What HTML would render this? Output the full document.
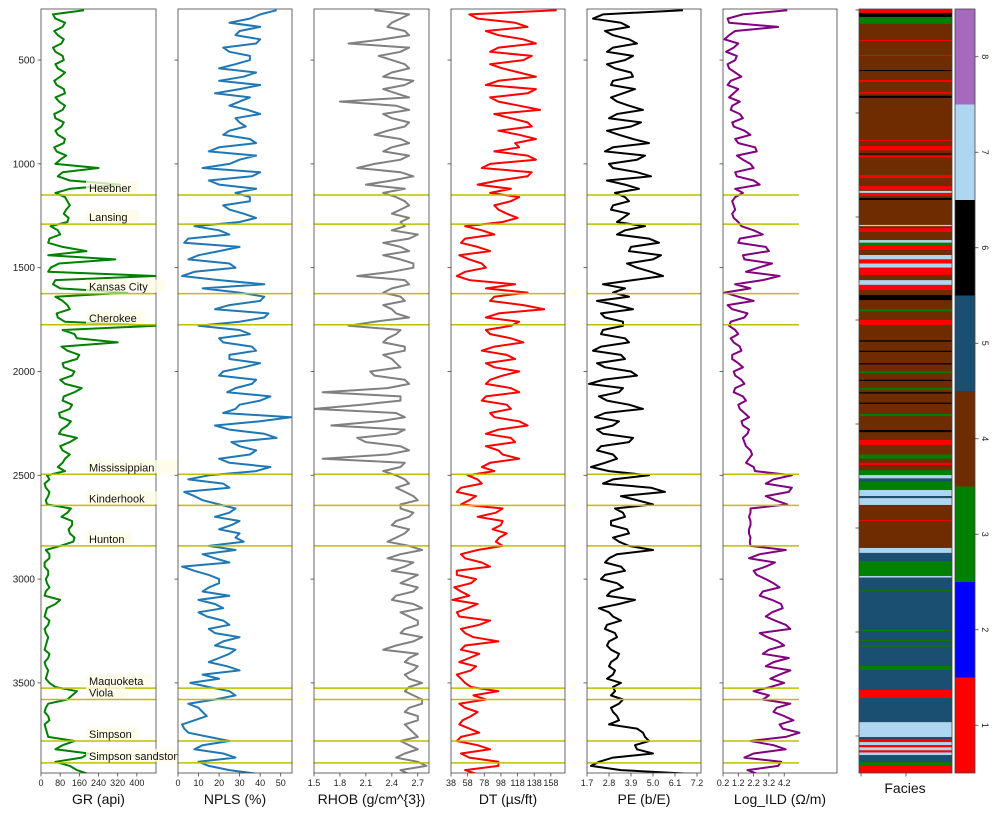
<!DOCTYPE html>
<html><head><meta charset="utf-8"><style>
html,body{margin:0;padding:0;background:#fff;}
svg{display:block;font-family:"Liberation Sans","DejaVu Sans",sans-serif;}
</style></head><body>
<svg id="chart" width="996" height="814" viewBox="0 0 996 814" xmlns="http://www.w3.org/2000/svg"></svg>
<script>
// ---- data ----
const depthStart = 260;
const depthStep = 40;
const grValues = [180,60,90,70,85,60,95,70,80,65,100,75,90,60,85,70,95,65,80,240,70,330,
 60,110,105,115, 40,80,30,190,310,40,480,50, 360,90,120,70,
 480,140,320,110,150,95,130,100,140,90,120,80,110,75,120,90,100,70,
 25,15,35,20, 125,85,130,120,135,
 20,35,15,30,25,20,80,25,15,30,20,25,15,30,20,25,35, 150,110, 20,30,15,25, 140,60,170, 120,200];
const grMidValues = [50,100,55,95,50,90,60,100,55,95,60,100,55,95,60,100,55,105,60,90,120, 120, 100,120,95, 110,
 70,35,90,30,75,30,60, 80, 60,110,65, 100,
 90,150,85,160,90,140,80,170,95,130,75,125,85,150,80,120,90, 100, 35,20,30, 25, 110,130,115,140, 80,
 35,15,30,20,35,15,60,20,35,15,30,20,35,15,30,20, 60, 130, 30,15,35,20, 30, 90,200, 60, 150];
const nplsValues = [48,35,40,28,38,25,35,20,32,40,18,30,34,28,33,22,38,15,30,12,36,20,
 28,35,25,38, 8,25,3,20,5,28,2,42, 30,40,18,42,
 10,35,22,38,25,32,20,36,24,40,28,55,18,42,26,38,20,45,
 15,22,3,12, 28,18,26,30,32,
 28,18,2,15,20,12,10,22,14,25,18,22,28,20,24,12,6, 25,18, 10,14,2,5, 25,8,28, 15,40];
const nplsMidValues = [40,25,30,40,22,35,28,38,20,30,35,25,40,30,25,35,20,38,25,40,15, 38, 35,22,32, 30,
 20,5,30,10,25,8,20, 12, 42,25,44, 30,
 30,20,36,25,40,22,38,28,45,30,22,40,25,48,30,35,25, 38, 5,25,8, 20, 25,30,20,28, 15,
 12,25,8,20,15,25,18,10,22,15,30,18,25,15,30,20, 15, 28, 5,12,8,3, 15, 12,22, 10, 25];
const rhobValues = [2.2,2.5,2.35,2.6,1.9,2.5,2.4,2.6,2.3,2.55,2.45,1.8,2.6,2.4,2.55,2.2,2.6,2.3,2.5,2.0,2.65,2.1,
 2.3,2.55,2.5,2.6, 2.55,2.7,2.3,2.6,2.5,2.65,2.0,2.6, 2.3,2.55,2.4,2.6,
 1.9,2.45,2.3,2.55,2.4,2.5,2.2,2.6,1.6,2.5,1.5,2.55,1.7,2.45,2.1,2.6,1.6,2.5,
 2.45,2.6,2.55,2.7, 2.5,2.6,2.4,2.55,2.35,
 2.75,2.35,2.55,2.7,2.5,2.65,2.4,2.75,2.6,2.7,2.5,2.65,2.3,2.6,2.7,2.55,2.75, 2.55,2.75, 2.6,2.7,2.55,2.65, 2.5,2.7,2.45, 2.8,2.6];
const rhobMidValues = [2.6,2.4,2.55,2.3,2.6,2.25,2.55,2.4,2.65,2.3,2.6,2.45,2.3,2.6,2.35,2.5,2.4,2.6,2.2,2.5,2.4, 2.55, 2.45,2.6,2.4, 2.5,
 2.4,2.6,2.5,2.3,2.65,2.4,2.55, 2.4, 2.5,2.3,2.45, 2.2,
 2.5,2.35,2.55,2.3,2.45,2.15,2.55,2.35,2.5,2.05,2.45,2.25,2.55,2.0,2.5,2.35,2.55, 2.3, 2.55,2.45,2.65, 2.5, 2.65,2.45,2.6,2.45, 2.6,
 2.5,2.65,2.4,2.6,2.7,2.45,2.65,2.5,2.7,2.55,2.75,2.45,2.7,2.55,2.65,2.6, 2.6, 2.65, 2.75,2.55,2.7,2.6, 2.7, 2.6,2.55, 2.7, 2.5];
const dtValues = [165,70,130,95,140,85,125,100,140,80,130,95,145,110,135,120,115,90,140,75,130,70,
 85,110,95,118, 55,90,50,85,60,80,45,115, 130,85,150,80,
 110,85,125,75,115,90,100,80,120,75,110,90,130,80,115,95,120,75,
 58,75,45,60, 100,70,98,105,92,
 70,55,85,45,62,50,40,58,48,72,55,95,50,60,68,45,55, 95,80, 55,62,48,72, 45,85,60, 95,70];
const dtMidValues = [60,115,80,125,95,135,85,120,95,140,85,120,90,130,95,140,120,130,85,135,95, 110, 120,90,105, 100,
 75,55,70,48,75,55,60, 80, 90,125,95, 120,
 80,110,90,105,80,120,85,110,80,105,85,120,95,110,80,100,85, 90, 70,50,68, 50, 92,100,88,96, 100,
 50,75,45,68,42,60,70,45,85,50,65,55,72,48,62,50, 62, 65, 48,70,52,60, 50, 70,50, 95, 55];
const peValues = [6.5,2.0,3.8,3.0,4.2,2.7,3.6,3.1,4.0,2.9,3.5,3.2,4.5,2.8,3.9,3.3,4.8,2.6,4.2,3.0,4.9,3.6,
 3.1,3.8,2.9,3.5, 4.6,3.2,5.3,3.8,5.0,4.2,5.5,2.5, 3.0,2.2,4.0,2.6,
 3.5,2.4,3.8,2.0,3.6,2.6,4.2,1.8,3.3,2.7,4.5,2.1,3.0,2.5,3.8,2.2,3.2,1.9,
 4.8,2.5,5.6,4.2, 3.1,3.6,2.9,3.8,3.3,
 5.0,2.8,3.4,2.6,3.2,2.9,4.1,2.3,3.0,2.7,3.1,2.8,2.9,3.2,2.8,3.0,3.4, 3.1,3.5, 2.9,3.2,2.8,4.5, 4.8,4.2,3.0, 1.9,7.2];
const peMidValues = [2.5,3.4,2.6,3.8,3.0,4.0,2.7,3.9,3.0,4.1,2.9,3.8,3.2,4.4,2.7,4.0,3.0,4.6,2.8,4.2,2.7, 4.3, 3.6,3.0,3.8, 3.2,
 3.6,4.8,3.9,5.4,3.7,4.9,4.0, 3.6, 3.8,3.2,2.4, 3.5,
 2.5,3.6,2.4,3.4,2.2,3.9,2.5,3.5,2.3,3.8,2.6,3.3,2.2,4.0,2.4,3.0,2.6, 2.8, 3.0,4.9,3.4, 5.0, 3.5,2.9,3.7,3.0, 3.8,
 3.2,2.6,3.6,2.4,3.5,2.7,3.3,2.8,3.4,2.6,3.2,2.7,3.3,2.9,3.1,2.7, 3.0, 2.9, 3.3,3.0,3.3,4.2, 4.6, 4.1,5.0, 2.3, 3.4];
const ildValues = [4.4,0.5,3.8,0.6,1.2,0.4,1.0,0.6,1.4,0.5,0.9,1.3,0.7,1.5,0.9,2.0,1.2,2.4,1.5,2.2,1.1,2.6,
 1.5,0.8,1.0,0.9, 1.4,2.8,1.2,3.2,1.6,2.5,3.9,1.0, 0.3,2.2,0.8,1.6,
 0.6,1.2,0.9,1.4,0.8,1.5,1.0,1.6,0.9,1.7,1.3,1.9,1.5,1.8,1.6,2.0,1.9,2.2,
 4.7,3.0,4.5,3.6, 2.0,1.9,2.0,1.9,1.95,
 4.3,1.9,3.0,2.4,3.5,2.8,3.4,4.1,3.0,4.3,2.6,3.8,3.2,4.5,3.0,3.9,4.2, 2.2,2.8, 3.7,4.2,3.9,5.2, 2.0,4.3,1.6, 3.8,2.5];
const ildMidValues = [1.5,0.6,1.0,0.3,0.9,1.1,0.5,1.0,0.7,1.2,0.6,0.8,1.3,0.8,1.6,1.0,2.3,1.1,2.0,1.0,2.2, 1.0, 1.0,0.9,0.8, 1.2,
 2.2,1.3,3.0,1.5,3.4,1.7,2.8, 2.0, 1.2,0.5,1.8, 0.7,
 1.0,0.7,1.3,0.8,1.2,0.9,1.4,1.0,1.5,1.2,1.6,1.4,1.9,1.5,1.7,2.1,1.7, 2.3, 3.5,4.7,3.0, 4.4, 2.0,2.0,1.9,2.0, 2.0,
 2.6,3.6,2.2,3.0,3.9,2.6,4.0,3.4,3.6,4.6,3.1,4.2,2.8,3.5,4.6,3.3, 3.3, 3.2, 4.6,3.5,4.8,4.1, 4.3, 3.5,2.2, 4.0, 1.8];
const formationNames = ["Heebner","Lansing","Kansas City","Cherokee","Mississippian","Kinderhook","Hunton","Maquoketa","Viola","Simpson","Simpson sandstone"];
const formationDepths = [1150,1290,1625,1775,2495,2645,2840,3525,3580,3780,3885];
const depthTicks = [500,1000,1500,2000,2500,3000,3500];
const grTicks = [0,80,160,240,320,400];
const nplsTicks = [0,10,20,30,40,50];
const rhobTicks = ["1.5","1.8","2.1","2.4","2.7"];
const dtTicks = [38,58,78,98,118,138,158];
const peTicks = ["1.7","2.8","3.9","5.0","6.1","7.2"];
const ildTicks = ["0.2","1.2","2.2","3.2","4.2"];
const faciesSegTop = [254,273,293,326,403,476,548,596,654,672,885,914,950,960,1054,1107,1130,1140,1164,1294,1310,1367,1380,1395,1439,1460,1480,1500,1560,1583,1632,1700,1752,1850,1900,1960,2000,2040,2080,2100,2150,2205,2282,2330,2400,2440,2475,2499,2515,2528,2571,2600,2610,2643,2716,2722,2850,2874,2913,2985,2993,3053,3060,3245,3252,3294,3300,3320,3326,3419,3438,3534,3573,3689,3761,3770,3785,3800,3810,3825,3835,3848,3882,3900];
const faciesSegBottom = [273,293,326,403,408,480,552,605,662,682,890,935,955,970,1068,1125,1140,1155,1174,1300,1328,1380,1395,1415,1460,1480,1500,1535,1583,1608,1656,1710,1776,1856,1906,1966,2008,2046,2088,2106,2156,2215,2292,2354,2420,2450,2499,2515,2528,2571,2600,2610,2643,2716,2722,2850,2874,2913,2985,2993,3053,3060,3245,3252,3294,3300,3320,3326,3419,3438,3534,3573,3689,3761,3770,3785,3800,3810,3825,3835,3848,3882,3900,3934];
const faciesSegCode = [1,6,3,4,1,1,6,1,1,6,1,1,6,1,1,1,7,1,6,7,1,7,3,1,7,1,7,1,7,1,6,3,1,6,6,6,3,6,3,6,6,3,6,1,3,1,3,7,5,3,7,5,7,4,1,4,7,5,3,7,5,3,5,3,5,3,5,3,5,3,5,1,5,7,5,1,7,1,7,1,7,5,3,1];
const colorbarLabels = ["1","2","3","4","5","6","7","8"];
const faciesColors = ["#ff0000","#0000ff","#008000","#6e2c00","#1b4f72","#000000","#aed6f1","#a569bd"];

// ---- layout ----
const svg = document.getElementById('chart');
const NS = 'http://www.w3.org/2000/svg';
const TOP = 9, BOT = 773, DMIN = 254, DMAX = 3934;
function yOf(d){ return TOP + (d - DMIN) * (BOT - TOP) / (DMAX - DMIN); }
function mk(tag, attrs, parent){ const e = document.createElementNS(NS, tag); for (const k in attrs) e.setAttribute(k, attrs[k]); (parent||svg).appendChild(e); return e; }

const panels = [
 {key:'gr', x0:41, x1:156, min:0, max:480, color:'#008000', vals:grValues, mids:grMidValues, ticks:grTicks, title:'GR (api)', lineEnd:156},
 {key:'npls', x0:178, x1:292, min:0, max:55.5, color:'#1f77b4', vals:nplsValues, mids:nplsMidValues, ticks:nplsTicks, title:'NPLS (%)', lineEnd:292},
 {key:'rhob', x0:314, x1:429, min:1.5, max:2.83, color:'#808080', vals:rhobValues, mids:rhobMidValues, ticks:rhobTicks, title:'RHOB (g/cm^{3})', lineEnd:429},
 {key:'dt', x0:451, x1:565, min:38, max:175, color:'#ff0000', vals:dtValues, mids:dtMidValues, ticks:dtTicks, title:'DT (\u00b5s/ft)', lineEnd:565},
 {key:'pe', x0:587, x1:701, min:1.7, max:7.4, color:'#000000', vals:peValues, mids:peMidValues, ticks:peTicks, title:'PE (b/E)', lineEnd:701},
 {key:'ild', x0:723, x1:837, min:0.2, max:7.65, color:'#800080', vals:ildValues, mids:ildMidValues, ticks:ildTicks, title:'Log_ILD (\u03a9/m)', lineEnd:799}
];
const defs = mk('defs', {});

panels.forEach((p, pi) => {
  const g = mk('g', {});
  
  
  const xOf = v => p.x0 + (v - p.min) * (p.x1 - p.x0) / (p.max - p.min);
  mk('rect', {x:p.x0, y:TOP, width:p.x1-p.x0, height:BOT-TOP, fill:'#fff'}, g);
  const cp = mk('clipPath', {id:'clip'+pi}, defs);
  mk('rect', {x:p.x0, y:TOP, width:p.x1-p.x0, height:BOT-TOP}, cp);
  const pts = [];
  p.vals.forEach((v,i) => {
    pts.push(xOf(+v).toFixed(1) + ',' + yOf(depthStart + i*depthStep).toFixed(1));
    if (i < p.mids.length) pts.push(xOf(+p.mids[i]).toFixed(1) + ',' + yOf(depthStart + i*depthStep + depthStep/2).toFixed(1));
  });
  const line = mk('polyline', {points:pts.join(' '), fill:'none', stroke:p.color, 'stroke-width':2, 'stroke-linejoin':'round', 'clip-path':'url(#clip'+pi+')'}, g);
  
  
  formationDepths.forEach((d, fi) => {
    const fl = mk('line', {x1:p.x0, x2:p.lineEnd, y1:yOf(d), y2:yOf(d), stroke:'#bfbf00', 'stroke-width':1.5}, g);
    
    
  });
  mk('rect', {x:p.x0, y:TOP, width:p.x1-p.x0, height:BOT-TOP, fill:'none', stroke:'#444', 'stroke-width':0.8}, g);
  depthTicks.forEach(d => {
    mk('line', {x1:p.x0-3.5, x2:p.x0, y1:yOf(d), y2:yOf(d), stroke:'#444', 'stroke-width':0.8}, g);
    if (pi === 0) {
      const t = mk('text', {x:p.x0-6, y:yOf(d)+3.5, 'font-size':10, 'text-anchor':'end', fill:'#222'}, g);
      t.textContent = d;
      
      
    }
  });
  p.ticks.forEach(tv => {
    const x = xOf(+tv);
    mk('line', {x1:x, x2:x, y1:BOT, y2:BOT+3.5, stroke:'#444', 'stroke-width':0.8}, g);
    const t = mk('text', {x:x, y:BOT+13, 'font-size':9, 'text-anchor':'middle', fill:'#222'}, g);
    t.textContent = tv;
    
    
  });
  const tt = mk('text', {x:(p.x0+p.x1)/2, y:804, 'font-size':14, 'text-anchor':'middle', fill:'#111'}, g);
  tt.textContent = p.title;
  
  
  if (pi === 0) {
    const cpl = mk('clipPath', {id:'labelclip'}, defs);
    mk('rect', {x:0, y:0, width:178, height:814}, cpl);
    const lg = mk('g', {'clip-path':'url(#labelclip)'});
    
    
    formationNames.forEach((n, fi) => {
      const y = yOf(formationDepths[fi]) - 5;
      mk('rect', {x:86, y:y-9, width:n.length*6.6+6, height:13, fill:'#fffbe6', opacity:0.8}, lg);
      const t = mk('text', {x:89, y:y+2, 'font-size':11, fill:'#111'}, lg);
      t.textContent = n;
      
      
    });
  }
});

// facies track
const fg = mk('g', {});


const FX0 = 859, FX1 = 952;
mk('rect', {x:FX0, y:TOP, width:FX1-FX0, height:BOT-TOP, fill:faciesColors[3]}, fg);
faciesSegCode.forEach((c, i) => {
  const r = mk('rect', {x:FX0, y:yOf(faciesSegTop[i]), width:FX1-FX0, height:Math.max(1, yOf(faciesSegBottom[i]) - yOf(faciesSegTop[i])), fill:faciesColors[c-1]}, fg);
  
  
});
mk('rect', {x:FX0, y:TOP, width:FX1-FX0, height:BOT-TOP, fill:'none', stroke:'#444', 'stroke-width':0.8}, fg);
[10,113,217,320,424,528,632,736].forEach(y => mk('line', {x1:FX0-3.5, x2:FX0, y1:y, y2:y, stroke:'#444', 'stroke-width':0.8}, fg));
[861,906].forEach(x => mk('line', {x1:x, x2:x, y1:BOT, y2:BOT+3.5, stroke:'#444', 'stroke-width':0.8}, fg));
const ft = mk('text', {x:905, y:793, 'font-size':14, 'text-anchor':'middle', fill:'#111'}, fg);
ft.textContent = 'Facies';



// colorbar
const cg = mk('g', {});


const bandH = (BOT - TOP) / 8;
colorbarLabels.forEach((lab, i) => {
  const y0 = BOT - (i+1)*bandH;
  const r = mk('rect', {x:955, y:y0, width:20, height:bandH, fill:faciesColors[i]}, cg);
  
  
  const cy = y0 + bandH/2;
  mk('line', {x1:975, x2:978.5, y1:cy, y2:cy, stroke:'#444', 'stroke-width':0.8}, cg);
  const t = mk('text', {x:0, y:0, 'font-size':9, 'text-anchor':'middle', fill:'#222', transform:'translate(982,'+cy+') rotate(90)'}, cg);
  t.textContent = lab;
  
  
});
mk('rect', {x:955, y:TOP, width:20, height:BOT-TOP, fill:'none', stroke:'#444', 'stroke-width':0.8}, cg);
</script>
</body></html>
